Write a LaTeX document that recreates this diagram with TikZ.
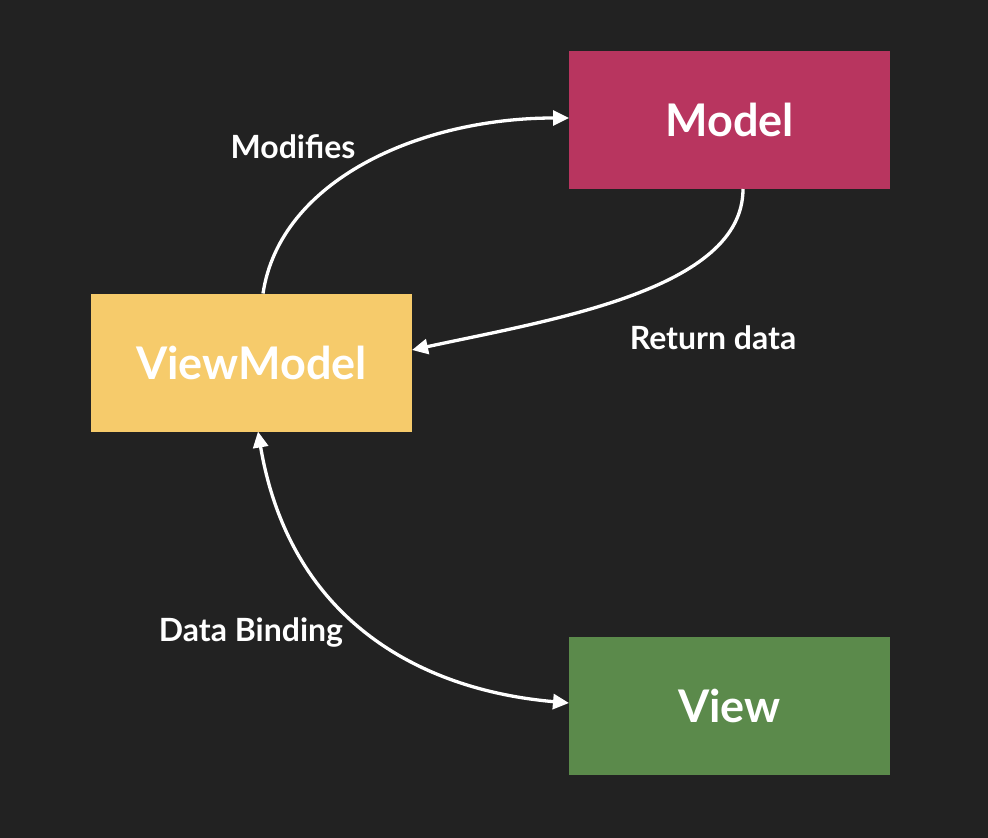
\documentclass[tikz,border=0pt]{standalone}
\usepackage{fontspec}
\setmainfont{Lato}
\usetikzlibrary{arrows.meta}
\definecolor{bg}{HTML}{222222}
\definecolor{modelc}{HTML}{B8355F}
\definecolor{vmc}{HTML}{F6CB6B}
\definecolor{viewc}{HTML}{5B8A4B}
\tikzset{
  box/.style={minimum width=321pt, minimum height=138pt, inner sep=0pt, outer sep=0pt, text=white, font=\fontsize{45}{54}\selectfont\bfseries},
  conn/.style={draw=white, line width=3.3pt, -{Triangle[length=16pt,width=15pt]}},
  lbl/.style={text=white, font=\fontsize{32}{38}\selectfont\bfseries, inner sep=0pt}
}
\begin{document}
\begin{tikzpicture}[x=1pt,y=-1pt]
\fill[bg] (0,0) rectangle (988,838);
\useasboundingbox (0,0) rectangle (988,838);
\node[box, fill=modelc] (model) at (729.5,120) {Model};
\node[box, fill=vmc] (vm) at (251.5,362.5) {ViewModel};
\node[box, fill=viewc] (view) at (729.5,706) {View};
\draw[conn] ([xshift=11.5pt]vm.north) .. controls (280,180) and (420,118) .. ([yshift=2pt]model.west);
\draw[conn] ([xshift=13.5pt]model.south) .. controls (743,290) and (550,320) .. ([yshift=12.5pt]vm.east);
\draw[conn, {Triangle[length=16pt,width=15pt]}-{Triangle[length=16pt,width=15pt]}] ([xshift=6.5pt]vm.south) .. controls (290,620) and (420,690) .. ([yshift=3pt]view.west);
\node[lbl] (l1) at (293,147) {Modifies};
\node[lbl] (l2) at (713,338) {Return data};
\node[lbl] (l3) at (251,632) {Data Binding};
\end{tikzpicture}
\end{document}
